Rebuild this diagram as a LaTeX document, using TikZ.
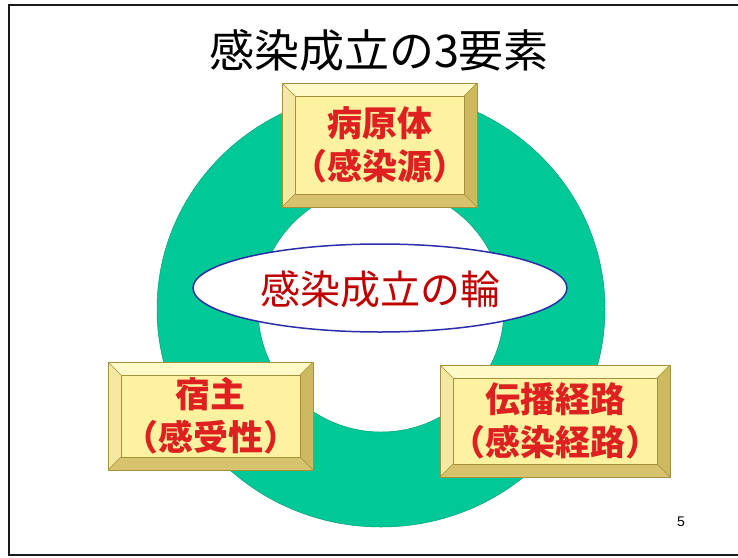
\documentclass[tikz,border=0pt]{standalone}
\usepackage{fontspec}
\usetikzlibrary{shapes.geometric}
\newfontfamily\jp{Noto Sans CJK JP}
\setsansfont{Liberation Sans}
\definecolor{ringgreen}{RGB}{0,200,150}
\definecolor{ringedge}{RGB}{0,160,120}
\definecolor{face}{RGB}{252,242,160}
\definecolor{bevT}{RGB}{255,250,200}
\definecolor{bevL}{RGB}{245,232,160}
\definecolor{bevR}{RGB}{205,185,95}
\definecolor{bevB}{RGB}{215,195,110}
\definecolor{bevline}{RGB}{165,145,60}
\definecolor{boxred}{RGB}{222,32,32}
\definecolor{darkred}{RGB}{192,0,0}
\definecolor{ellblue}{RGB}{45,45,170}
\tikzset{
  boxtext/.style={text=boxred, align=center, inner sep=0pt,
    font=\jp\bfseries\fontsize{35}{43}\selectfont},
  edgeline/.style={draw=bevline, line width=0.6pt, line join=round},
  framelines/.style={draw=black!90, line width=2.2pt},
}
\newcommand\bevbox[6]{%
  \fill[face] (#2,#3) rectangle (#4,#5);
  \fill[bevT] (#2,#3) -- (#4,#3) -- ({#4-13},{#3+13}) -- ({#2+13},{#3+13}) -- cycle;
  \fill[bevL] (#2,#3) -- ({#2+13},{#3+13}) -- ({#2+13},{#5-13}) -- (#2,#5) -- cycle;
  \fill[bevR] (#4,#3) -- (#4,#5) -- ({#4-13},{#5-13}) -- ({#4-13},{#3+13}) -- cycle;
  \fill[bevB] (#2,#5) -- (#4,#5) -- ({#4-13},{#5-13}) -- ({#2+13},{#5-13}) -- cycle;
  \draw[edgeline] (#2,#3) rectangle (#4,#5);
  \draw[edgeline] ({#2+13},{#3+13}) rectangle ({#4-13},{#5-13});
  \draw[edgeline] (#2,#3) -- ({#2+13},{#3+13}) (#4,#3) -- ({#4-13},{#3+13})
                  (#2,#5) -- ({#2+13},{#5-13}) (#4,#5) -- ({#4-13},{#5-13});
  \node[boxtext] (#1) at ({(#2+#4)/2},{(#3+#5)/2}) {#6};
}
\begin{document}
\begin{tikzpicture}[x=1pt,y=-1pt]
\useasboundingbox (0,0) rectangle (738,557);
\fill[white] (0,0) rectangle (738,557);
% slide frame
\draw[framelines] (738,5) -- (9,5) -- (9,555) -- (738,555);
% title
\node[font=\jp\fontsize{45}{45}\selectfont, inner sep=0pt] (title) at (379,50) {感染成立の3要素};
% ring
\fill[ringgreen, even odd rule] (381,309) ellipse[x radius=224pt, y radius=218pt]
      (381,309) circle[radius=123pt];
\draw[ringedge, line width=0.5pt] (381,309) ellipse[x radius=224pt, y radius=218pt];
\draw[ringedge, line width=0.5pt] (381,309) circle[radius=123pt];
% centre ellipse
\node[ellipse, draw=ellblue, line width=1.5pt, fill=white, minimum width=374pt,
      minimum height=88pt, inner sep=0pt] (wa) at (380,288) {};
\node[text=darkred, font=\jp\fontsize{40}{40}\selectfont, inner sep=0pt] (watext) at (380,289) {感染成立の輪};
% boxes
\bevbox{agent}{282}{83}{477}{207}{病原体\\（感染源）}
\bevbox{host}{108}{362}{313}{470}{宿主\\（感受性）}
\bevbox{route}{440}{365}{670}{477}{伝播経路\\（感染経路）}
% page number
\node[font=\sffamily\fontsize{14}{14}\selectfont, inner sep=0pt] (pnum) at (681,522) {5};
\end{tikzpicture}
\end{document}
